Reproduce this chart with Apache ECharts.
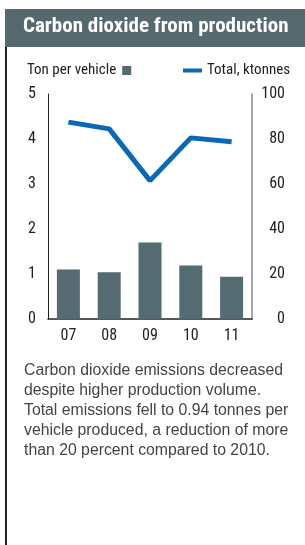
<!DOCTYPE html>
<html><head><meta charset="utf-8">
<script src="https://cdn.jsdelivr.net/npm/echarts@6/dist/echarts.min.js"></script>
<style>html,body{margin:0;padding:0;background:#fff}#c{width:305px;height:545px}</style>
</head><body><div id="c"></div>
<script>
const categories = ['07','08','09','10','11'];
const tonPerVehicle = [1.1, 1.04, 1.7, 1.19, 0.94];
const totalKtonnes = [87.5, 84.5, 61.5, 80.5, 78.8];
const leftTicks = [0,1,2,3,4,5];
const rightTicks = [0,20,40,60,80,100];
const titleText = 'Carbon dioxide from production';
const noteText = 'Carbon dioxide emissions decreased\ndespite higher production volume.\nTotal emissions fell to 0.94 tonnes per\nvehicle produced, a reduction of more\nthan 20 percent compared to 2010.';

const NARROW = '"Roboto Condensed", "Liberation Sans", Arial, sans-serif';
const chart = echarts.init(document.getElementById('c'), null, {renderer:'canvas'});
chart.setOption({
  animation:false,
  backgroundColor:'#fff',
  grid:{left:48, right:53, top:94, bottom:226},
  legend:[
    {data:['Ton per vehicle'], icon:'rect', left:22, top:58, align:'right', itemWidth:9, itemHeight:9, itemGap:3,
     textStyle:{fontFamily:NARROW, fontSize:15, color:'#222', padding:[0,1,0,0]}},
    {data:['Total, ktonnes'], icon:'rect', left:178, top:58, itemWidth:19, itemHeight:4, itemGap:4,
     textStyle:{fontFamily:NARROW, fontSize:15, color:'#222'}}
  ],
  xAxis:{type:'category', data:categories,
    axisLine:{lineStyle:{color:'#222', width:1.5}}, axisTick:{show:false},
    axisLabel:{fontFamily:NARROW, fontSize:16, color:'#222', margin:9}},
  yAxis:[
    {type:'value', min:0, max:5, interval:1, position:'left',
     axisLine:{show:true, lineStyle:{color:'#222', width:1}}, axisTick:{show:false}, splitLine:{show:false},
     axisLabel:{fontFamily:NARROW, fontSize:16, color:'#222', margin:12,
       formatter:v=>leftTicks.includes(v)?String(v):''}},
    {type:'value', min:0, max:100, interval:20, position:'right',
     axisLine:{show:true, lineStyle:{color:'#888', width:1.5}}, axisTick:{show:false}, splitLine:{show:false},
     axisLabel:{fontFamily:NARROW, fontSize:16, color:'#222', margin:33, align:'right',
       formatter:v=>rightTicks.includes(v)?String(v):''}}
  ],
  series:[
    {name:'Ton per vehicle', type:'bar', data:tonPerVehicle, barWidth:23, yAxisIndex:0,
     itemStyle:{color:'#546b71'}},
    {name:'Total, ktonnes', type:'line', data:totalKtonnes, yAxisIndex:1, symbol:'none',
     lineStyle:{color:'#0a68b4', width:5}, itemStyle:{color:'#0a68b4'}}
  ],
  graphic:[
    {type:'rect', left:5, top:9, shape:{width:300, height:38}, style:{fill:'#56696e'}},
    {type:'text', left:23, top:16, style:{text:titleText, fill:'#fff', font:'bold 21px '+NARROW}},
    {type:'rect', left:5, top:47, shape:{width:2, height:498}, style:{fill:'#222'}},
    {type:'text', left:24, top:361, style:{text:noteText, fill:'#444', font:'15.8px "Liberation Sans", Arial, sans-serif', lineHeight:20}}
  ]
});
</script></body></html>
